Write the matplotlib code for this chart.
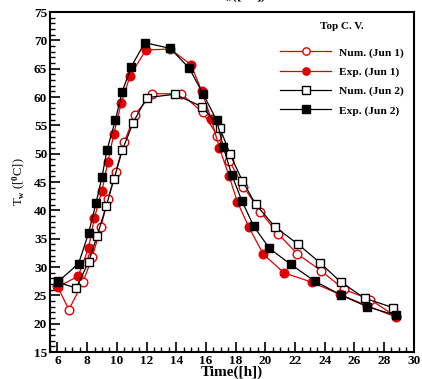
import matplotlib
matplotlib.use('Agg')
import matplotlib.pyplot as plt
from matplotlib.ticker import MultipleLocator

plt.rcParams['font.family'] = 'Liberation Serif'
plt.rcParams['font.weight'] = 'bold'
plt.rcParams['mathtext.fontset'] = 'custom'
plt.rcParams['mathtext.rm'] = 'Liberation Serif:bold'
plt.rcParams['mathtext.it'] = 'Liberation Serif:bold'

# Num. (Jun 1)
num1_t = [6.0, 6.77, 7.71, 8.34, 8.92, 9.4, 9.92, 10.5, 11.2, 12.4, 14.33, 15.78, 16.78,
          17.57, 18.53, 19.67, 20.85, 22.15, 23.76, 25.28, 27.08, 28.78]
num1_T = [26.6, 22.5, 27.3, 31.7, 37.0, 42.0, 46.8, 52.0, 56.9, 60.6, 60.6, 57.3, 53.2,
          48.8, 44.2, 39.75, 35.9, 32.35, 29.35, 26.1, 24.25, 21.3]

# Exp. (Jun 1)
exp1_t = [6.02, 7.4, 8.1, 8.48, 9.0, 9.4, 9.8, 10.3, 10.9, 11.95, 13.6, 15.0, 15.73, 16.35,
          16.9, 17.57, 18.12, 18.9, 19.86, 21.25, 23.12, 25.0, 26.85, 28.78]
exp1_T = [26.5, 28.4, 33.4, 38.6, 43.5, 48.6, 53.5, 59.0, 63.8, 68.3, 68.5, 65.7, 61.0, 56.2,
          51.1, 46.0, 41.5, 37.0, 32.3, 29.0, 27.35, 25.2, 23.2, 21.2]

# Num. (Jun 2)
num2_t = [6.05, 7.26, 8.1, 8.67, 9.29, 9.82, 10.36, 11.1, 12.0, 13.9, 15.75, 16.95, 17.63,
          18.46, 19.35, 20.65, 22.2, 23.67, 25.07, 26.7, 28.6]
num2_T = [27.3, 26.3, 30.9, 35.5, 40.8, 45.6, 50.6, 55.5, 59.9, 60.5, 58.3, 54.5, 49.9,
          45.2, 41.1, 37.1, 34.05, 30.8, 27.4, 24.5, 22.85]

# Exp. (Jun 2)
exp2_t = [6.07, 7.42, 8.1, 8.6, 9.0, 9.33, 9.9, 10.35, 10.98, 11.88, 13.6, 14.88, 15.82,
          16.73, 17.17, 17.74, 18.42, 19.22, 20.28, 21.7, 23.35, 25.07, 26.87, 28.78]
exp2_T = [27.5, 30.6, 36.0, 41.3, 45.9, 50.6, 55.9, 60.9, 65.4, 69.6, 68.6, 65.1, 60.5,
          55.9, 51.2, 46.3, 41.7, 37.2, 33.3, 30.5, 27.5, 25.1, 23.0, 21.5]

fig = plt.figure(figsize=(4.22, 3.79), dpi=100)
ax = fig.add_axes([0.1185, 0.071, 0.862, 0.897])

ms = 6.2
ax.plot(num1_t, num1_T, color='#e00000', lw=0.9, marker='o', ms=ms, mfc='white',
        mec='#e00000', label='Num. (Jun 1)')
ax.plot(exp1_t, exp1_T, color='#e00000', lw=0.9, marker='o', ms=ms, mfc='#e00000',
        mec='#e00000', label='Exp. (Jun 1)')
ax.plot(num2_t, num2_T, color='black', lw=0.9, marker='s', ms=ms, mfc='white',
        mec='black', label='Num. (Jun 2)')
ax.plot(exp2_t, exp2_T, color='black', lw=0.9, marker='s', ms=ms, mfc='black',
        mec='black', label='Exp. (Jun 2)')

ax.set_xlim(5.5, 30)
ax.set_ylim(15, 75)
ax.xaxis.set_major_locator(MultipleLocator(2))
ax.xaxis.set_minor_locator(MultipleLocator(0.5))
ax.yaxis.set_major_locator(MultipleLocator(5))
ax.yaxis.set_minor_locator(MultipleLocator(1))
ax.tick_params(which='major', direction='in', length=7, width=1.2, labelsize=9.5, pad=2)
ax.tick_params(which='minor', direction='in', length=3.5, width=1)
for s in ax.spines.values():
    s.set_linewidth(1.5)

ax.set_xlabel('Time([h])', fontsize=11, fontweight='bold', labelpad=-1)
ax.set_ylabel(r'T$_{\rm w}$ ([$^{\rm 0}$C])', fontsize=9, labelpad=4)

leg = ax.legend(loc='upper right', frameon=False, title='Top C. V.', fontsize=8.2,
                handlelength=4.5, labelspacing=0.8, handletextpad=0.7,
                markerscale=0.85, borderaxespad=0.3,
                bbox_to_anchor=(0.995, 0.995))
leg.get_title().set_fontweight('bold')
leg.get_title().set_fontsize(8)
leg._legend_box.sep = 12

fig.text(0.57, 1.012, r'T$_{\rm w}$([$^{\rm 0}$C])', ha='center', va='center', fontsize=10)

fig.savefig('out.png', dpi=100)
